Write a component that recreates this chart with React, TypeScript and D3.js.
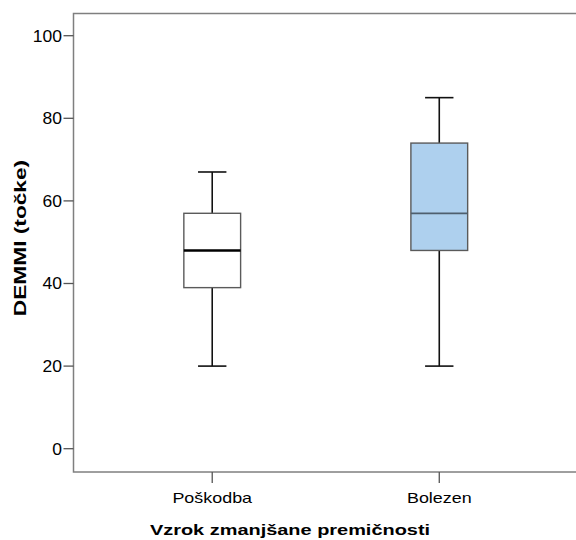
import React from "react";
import * as d3 from "d3";

const categories = ["Poškodba", "Bolezen"];
const lowWhisker = [20, 20];
const q1 = [39, 48];
const median = [48, 57];
const q3 = [57, 74];
const highWhisker = [67, 85];
const boxFills = ["#ffffff", "#aed0ee"];
const medianColors = ["#000000", "#4f5f6e"];
const yTicks = [0, 20, 40, 60, 80, 100];

const yTitle = "DEMMI (točke)";
const xTitle = "Vzrok zmanjšane premičnosti";

const W = 576;
const H = 540;
const frame = { left: 73.5, right: 578, top: 13.5, bottom: 472 };
const FONT = "'Liberation Sans', Arial, sans-serif";

export default function App() {
  const x = d3
    .scalePoint<string>()
    .domain(categories)
    .range([frame.left, frame.right])
    .padding(0.611);
  const y = d3.scaleLinear().domain([0, 100]).range([448.7, 35.7]);

  const step = x.step();
  const boxW = step * 0.25;
  const capW = step * 0.125;

  return (
    <div style={{ position: "absolute", left: 0, top: 0 }}>
      <svg width={W} height={H} style={{ display: "block", background: "#fff" }}>
        {/* frame */}
        <rect
          x={frame.left}
          y={frame.top}
          width={frame.right - frame.left}
          height={frame.bottom - frame.top}
          fill="none"
          stroke="#7f7f7f"
          strokeWidth={1.5}
        />

        {/* y axis ticks */}
        {yTicks.map((t) => (
          <g key={t} transform={`translate(0,${y(t)})`}>
            <line x1={frame.left - 10} x2={frame.left} stroke="#555" strokeWidth={1.3} />
            <text
              transform={`translate(62,0) scale(1.06,1)`}
              dy="0.36em"
              textAnchor="end"
              fontFamily={FONT}
              fontSize={16.5}
              fill="#000"
            >
              {t}
            </text>
          </g>
        ))}

        {/* x axis ticks */}
        {categories.map((c) => (
          <g key={c} transform={`translate(${x(c)},0)`}>
            <line y1={frame.bottom} y2={frame.bottom + 11} stroke="#555" strokeWidth={1.3} />
            <text
              transform={`translate(0,502.5) scale(1.28,1)`}
              textAnchor="middle"
              fontFamily={FONT}
              fontSize={14}
              fill="#000"
            >
              {c}
            </text>
          </g>
        ))}

        {/* boxes */}
        {categories.map((c, i) => {
          const cx = x(c) as number;
          return (
            <g key={c}>
              <line x1={cx} x2={cx} y1={y(highWhisker[i])} y2={y(q3[i])} stroke="#111" strokeWidth={1.6} />
              <line x1={cx} x2={cx} y1={y(q1[i])} y2={y(lowWhisker[i])} stroke="#111" strokeWidth={1.6} />
              <line x1={cx - capW / 2} x2={cx + capW / 2} y1={y(highWhisker[i])} y2={y(highWhisker[i])} stroke="#111" strokeWidth={1.6} />
              <line x1={cx - capW / 2} x2={cx + capW / 2} y1={y(lowWhisker[i])} y2={y(lowWhisker[i])} stroke="#111" strokeWidth={1.6} />
              <rect
                x={cx - boxW / 2}
                y={y(q3[i])}
                width={boxW}
                height={y(q1[i]) - y(q3[i])}
                fill={boxFills[i]}
                stroke="#5a5a5a"
                strokeWidth={1.4}
              />
              <line
                x1={cx - boxW / 2}
                x2={cx + boxW / 2}
                y1={y(median[i])}
                y2={y(median[i])}
                stroke={medianColors[i]}
                strokeWidth={i === 0 ? 2.6 : 1.8}
              />
            </g>
          );
        })}

        {/* axis titles */}
        <text
          transform={`translate(25.5,238) rotate(-90) scale(1.42,1)`}
          textAnchor="middle"
          fontFamily={FONT}
          fontSize={16}
          fontWeight="bold"
          fill="#000"
        >
          {yTitle}
        </text>
        <text
          transform={`translate(290,535) scale(1.33,1)`}
          textAnchor="middle"
          fontFamily={FONT}
          fontSize={15}
          fontWeight="bold"
          fill="#000"
        >
          {xTitle}
        </text>
      </svg>
    </div>
  );
}
